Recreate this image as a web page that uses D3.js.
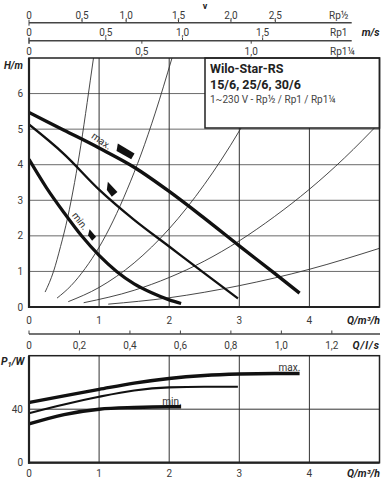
<!DOCTYPE html>
<html><head><meta charset="utf-8">
<script src="https://cdn.jsdelivr.net/npm/d3@7"></script>
<style>
html,body{margin:0;padding:0;background:#fff;}
svg{display:block;font-family:Roboto,"Noto Sans",sans-serif;}
</style></head>
<body><svg id="c" width="381" height="480"></svg>
<script>
// ---------- data ----------
const qTicks = [0, 1, 2, 3, 4];
const hTicks = [0, 1, 2, 3, 4, 5, 6];
const lsTicks = [0, 0.2, 0.4, 0.6, 0.8, 1.0, 1.2];
const pTicks = [0, 40];

// velocity scales (value, equivalent flow in m3/h)
const vRpHalf = [0, 0.5, 1.0, 1.5, 2.0, 2.5];
const vRpHalfQ = [0, 0.757, 1.386, 2.133, 2.881, 3.514];
const vRp1 = [0, 0.5, 1.0, 1.5];
const vRp1Q = [0, 1.096, 2.19, 3.333];
const vRp114 = [0, 0.5, 1.0];
const vRp114Q = [0, 1.61, 3.17];

// pump curves H(Q)
const maxQ = [0, 0.5, 1, 1.5, 2, 2.5, 3, 3.5, 3.86];
const maxH = [5.47, 4.97, 4.47, 3.93, 3.25, 2.5, 1.72, 0.95, 0.39];
const medQ = [0, 0.5, 1, 1.5, 2, 2.5, 2.98];
const medH = [5.13, 4.3, 3.3, 2.45, 1.7, 0.95, 0.24];
const minQ = [0, 0.25, 0.5, 0.75, 1, 1.25, 1.5, 1.75, 2, 2.17];
const minH = [4.15, 3.35, 2.65, 2.0, 1.45, 1.0, 0.65, 0.4, 0.2, 0.1];

// system (resistance) curves
const sys1Q = [0.23, 0.35, 0.45, 0.55, 0.65, 0.74, 0.83, 0.92, 0.95];
const sys1H = [0.42, 1.0, 1.7, 2.5, 3.5, 4.55, 5.75, 7.0, 7.4];
const sys2Q = [0.40, 0.6, 0.8, 1.0, 1.2, 1.4, 1.6, 1.8, 2.04, 2.1];
const sys2H = [0.25, 0.6, 1.08, 1.68, 2.42, 3.3, 4.3, 5.45, 7.0, 7.4];
const sys3Q = [0.56, 1.0, 1.5, 2.0, 2.5, 3.0, 3.3, 3.57];
const sys3H = [0.15, 0.55, 1.24, 2.2, 3.44, 4.95, 6.0, 7.0];
const sys4Q = [0.78, 1.5, 2.0, 2.5, 3.0, 3.5, 4.0, 4.5, 5.0];
const sys4H = [0.12, 0.47, 0.83, 1.29, 1.86, 2.54, 3.31, 4.19, 5.18];
const sys5Q = [1.13, 2.0, 3.0, 4.0, 5.0];
const sys5H = [0.08, 0.26, 0.6, 1.06, 1.65];

// setting markers (Q, H)
const markerQ = [1.37, 1.176, 0.9];
const markerH = [4.36, 3.31, 2.02];

// power curves P1(Q)
const pMaxQ = [0, 0.5, 1, 1.5, 2, 2.5, 3, 3.5, 3.86];
const pMax = [45, 50, 54.8, 59.5, 63, 65.2, 66.3, 66.7, 66.7];
const pMedQ = [0, 0.5, 1, 1.5, 2, 2.5, 2.98];
const pMed = [37, 43.5, 49.3, 54, 56.3, 56.8, 56.8];
const pMinQ = [0, 0.5, 1, 1.5, 2, 2.17];
const pMin = [29, 36, 40, 41.3, 41.8, 41.8];

const titleLines = ["Wilo-Star-RS", "15/6, 25/6, 30/6", "1~230 V - Rp½ / Rp1 / Rp1¼"];

// ---------- drawing ----------
const svg = d3.select("#c");
const ink = "#222";
const tickFill = "#3a3a3a";
const x = d3.scaleLinear().domain([0, 5]).range([29, 379.5]);
const y = d3.scaleLinear().domain([0, 7]).range([307, 58]);
const yp = d3.scaleLinear().domain([0, 80]).range([462.7, 355.7]);
const fmt = v => d3.format(".1f")(v).replace(".", ",");
const fmtV = v => v === 0 ? "0" : fmt(v);

// top velocity axes
function velAxis(yLine, vals, qs, dir, labelY, drawLine) {
  if (drawLine) svg.append("line").attr("x1", x(0)).attr("x2", 351.7).attr("y1", yLine).attr("y2", yLine)
      .attr("stroke", "#444").attr("stroke-width", 1.4);
  vals.forEach((v, i) => {
    const px = x(qs[i]);
    svg.append("line").attr("x1", px).attr("x2", px)
      .attr("y1", v === 0 ? yLine - 3 : yLine).attr("y2", v === 0 ? yLine + 3 : yLine + dir * 3)
      .attr("stroke", "#444").attr("stroke-width", 1);
    svg.append("text").attr("x", px).attr("y", labelY).attr("text-anchor", "middle")
      .attr("font-size", 10).attr("fill", tickFill).text(fmtV(v));
  });
}
velAxis(22.7, vRpHalf, vRpHalfQ, -1, 18.5, true);
velAxis(40.7, vRp1, vRp1Q, -1, 35.8, true);
velAxis(40.7, vRp114, vRp114Q, 1, 54.5, false);
svg.append("text").attr("x", 329).attr("y", 18.5).attr("font-size", 10).attr("fill", tickFill).text("Rp½");
svg.append("text").attr("x", 330).attr("y", 35.8).attr("font-size", 10).attr("fill", tickFill).text("Rp1");
svg.append("text").attr("x", 330).attr("y", 54.5).attr("font-size", 10).attr("fill", tickFill).text("Rp1¼");
svg.append("text").attr("x", 205).attr("y", 8.5).attr("font-size", 9).attr("font-weight", "bold").attr("fill", ink).attr("text-anchor", "middle").text("v");
svg.append("text").attr("x", 379.5).attr("y", 36).attr("font-size", 10.5).attr("font-weight", "bold").attr("font-style", "italic").attr("fill", ink).attr("text-anchor", "end").text("m/s");

// main chart clip
svg.append("clipPath").attr("id", "mc").append("rect")
  .attr("x", x(0)).attr("y", y(7)).attr("width", x(5) - x(0)).attr("height", y(0) - y(7));

// grid
hTicks.filter(d => d > 0).forEach(h => svg.append("line").attr("x1", x(0)).attr("x2", x(5))
  .attr("y1", y(h)).attr("y2", y(h)).attr("stroke", "#6a6a6a").attr("stroke-width", 1));
qTicks.filter(d => d > 0).forEach(q => svg.append("line").attr("x1", x(q)).attr("x2", x(q))
  .attr("y1", y(0)).attr("y2", y(7)).attr("stroke", "#333").attr("stroke-width", 1));

const line = d3.line().curve(d3.curveMonotoneX);
const g = svg.append("g").attr("clip-path", "url(#mc)");
[[sys1Q, sys1H], [sys2Q, sys2H], [sys3Q, sys3H], [sys4Q, sys4H], [sys5Q, sys5H]].forEach(([qs, hs]) => {
  g.append("path").attr("d", line(qs.map((q, i) => [x(q), y(hs[i])])))
    .attr("fill", "none").attr("stroke", "#333").attr("stroke-width", 0.9);
});
[[maxQ, maxH, 3.4], [medQ, medH, 2.3], [minQ, minH, 3.2]].forEach(([qs, hs, w]) => {
  g.append("path").attr("d", line(qs.map((q, i) => [x(q), y(hs[i])])))
    .attr("fill", "none").attr("stroke", "#111").attr("stroke-width", w);
});

// markers
const shapes = [
  [[-7.2, -8.3], [9.5, 1.7], [6.2, 7.4], [-8.5, -0.9]],
  [[-3.6, -7.6], [6, 2.7], [0.4, 7.4], [-4.6, 0.7]],
  [[-2.5, -6], [4, 1.5], [0, 5.7], [-4, 0]]
];
markerQ.forEach((q, i) => {
  svg.append("polygon").attr("points", shapes[i].map(p => [x(q) + p[0], y(markerH[i]) + p[1]].join(",")).join(" "))
    .attr("fill", "#111");
});
svg.append("text").attr("transform", `translate(${x(1.036)},${y(4.67)}) rotate(35)`)
  .attr("text-anchor", "middle").attr("dy", "0.35em").attr("font-size", 10).attr("fill", "#333").text("max.");
svg.append("text").attr("transform", `translate(${x(0.729)},${y(2.42)}) rotate(52)`)
  .attr("text-anchor", "middle").attr("dy", "0.35em").attr("font-size", 10).attr("fill", "#333").text("min.");

// legend box
svg.append("rect").attr("x", 205).attr("y", y(7)).attr("width", x(5) - 205).attr("height", 70)
  .attr("fill", "#fff").attr("stroke", ink).attr("stroke-width", 1.5);
svg.append("text").attr("x", 210).attr("y", 73).attr("font-size", 12.5).attr("font-weight", "bold").attr("fill", ink).text(titleLines[0]);
svg.append("text").attr("x", 210).attr("y", 88.5).attr("font-size", 12.5).attr("font-weight", "bold").attr("fill", ink).text(titleLines[1]);
svg.append("text").attr("x", 210).attr("y", 102.5).attr("font-size", 10).attr("fill", "#444").text(titleLines[2]);

// main frame
svg.append("rect").attr("x", x(0)).attr("y", y(7)).attr("width", x(5) - x(0)).attr("height", y(0) - y(7))
  .attr("fill", "none").attr("stroke", ink).attr("stroke-width", 1.5);
svg.append("line").attr("x1", x(0)).attr("x2", x(0)).attr("y1", y(7)).attr("y2", y(0) + 1).attr("stroke", ink).attr("stroke-width", 2.2);
svg.append("line").attr("x1", x(0) - 1).attr("x2", x(5)).attr("y1", y(0)).attr("y2", y(0)).attr("stroke", ink).attr("stroke-width", 2.2);

// main axes labels
hTicks.forEach(h => svg.append("text").attr("x", 23).attr("y", y(h)).attr("dy", "0.35em")
  .attr("text-anchor", "end").attr("font-size", 10).attr("fill", tickFill).text(h));
qTicks.forEach(q => svg.append("text").attr("x", x(q)).attr("y", 324).attr("text-anchor", "middle")
  .attr("font-size", 10).attr("fill", tickFill).text(q));
svg.append("text").attr("x", 4).attr("y", 69).attr("font-size", 10).attr("font-weight", "bold").attr("font-style", "italic").attr("fill", ink).text("H/m");
svg.append("text").attr("x", 380).attr("y", 324).attr("text-anchor", "end").attr("font-size", 10.5).attr("font-weight", "bold").attr("font-style", "italic").attr("fill", ink).text("Q/m³/h");

// l/s axis
svg.append("line").attr("x1", x(0)).attr("x2", 380).attr("y1", 334).attr("y2", 334).attr("stroke", "#444").attr("stroke-width", 1.4);
lsTicks.forEach(v => {
  const px = x(v * 3.6);
  svg.append("line").attr("x1", px).attr("x2", px).attr("y1", 330.5).attr("y2", 334).attr("stroke", "#444").attr("stroke-width", 1);
  svg.append("text").attr("x", px).attr("y", 349).attr("text-anchor", "middle").attr("font-size", 10).attr("fill", tickFill).text(fmtV(v));
});
svg.append("text").attr("x", 380).attr("y", 349).attr("text-anchor", "end").attr("font-size", 10.5).attr("font-weight", "bold").attr("font-style", "italic").attr("fill", ink).attr("letter-spacing", 1).text("Q/l/s");

// power chart
qTicks.filter(d => d > 0).forEach(q => svg.append("line").attr("x1", x(q)).attr("x2", x(q))
  .attr("y1", yp(0)).attr("y2", yp(80)).attr("stroke", "#333").attr("stroke-width", 1));
svg.append("line").attr("x1", x(0)).attr("x2", x(5)).attr("y1", yp(40)).attr("y2", yp(40)).attr("stroke", "#333").attr("stroke-width", 1);
[[pMaxQ, pMax, 3.4], [pMedQ, pMed, 2.2], [pMinQ, pMin, 3.4]].forEach(([qs, ps, w]) => {
  svg.append("path").attr("d", line(qs.map((q, i) => [x(q), yp(ps[i])])))
    .attr("fill", "none").attr("stroke", "#111").attr("stroke-width", w);
});
svg.append("text").attr("x", x(3.56)).attr("y", yp(68.6)).attr("font-size", 10).attr("fill", "#333").text("max.");
svg.append("text").attr("x", x(1.9)).attr("y", yp(43.5)).attr("font-size", 10).attr("fill", "#333").text("min.");
svg.append("rect").attr("x", x(0)).attr("y", yp(80)).attr("width", x(5) - x(0)).attr("height", yp(0) - yp(80))
  .attr("fill", "none").attr("stroke", ink).attr("stroke-width", 1.5);
svg.append("line").attr("x1", x(0)).attr("x2", x(0)).attr("y1", yp(80)).attr("y2", yp(0) + 1).attr("stroke", ink).attr("stroke-width", 2.2);
svg.append("line").attr("x1", x(0) - 1).attr("x2", x(5)).attr("y1", yp(0)).attr("y2", yp(0)).attr("stroke", ink).attr("stroke-width", 2.2);
pTicks.forEach(p => svg.append("text").attr("x", 23).attr("y", yp(p)).attr("dy", "0.35em")
  .attr("text-anchor", "end").attr("font-size", 10).attr("fill", tickFill).text(p));
qTicks.forEach(q => svg.append("text").attr("x", x(q)).attr("y", 476.5).attr("text-anchor", "middle")
  .attr("font-size", 10).attr("fill", tickFill).text(q));
svg.append("text").attr("x", 380).attr("y", 476.5).attr("text-anchor", "end").attr("font-size", 10.5).attr("font-weight", "bold").attr("font-style", "italic").attr("fill", ink).text("Q/m³/h");
const pt = svg.append("text").attr("x", 1).attr("y", 365).attr("font-size", 10.5).attr("font-weight", "bold").attr("font-style", "italic").attr("fill", ink);
pt.append("tspan").text("P");
pt.append("tspan").attr("font-size", 7.5).attr("dy", 2).text("1");
pt.append("tspan").attr("dy", -2).text("/W");
</script></body></html>
